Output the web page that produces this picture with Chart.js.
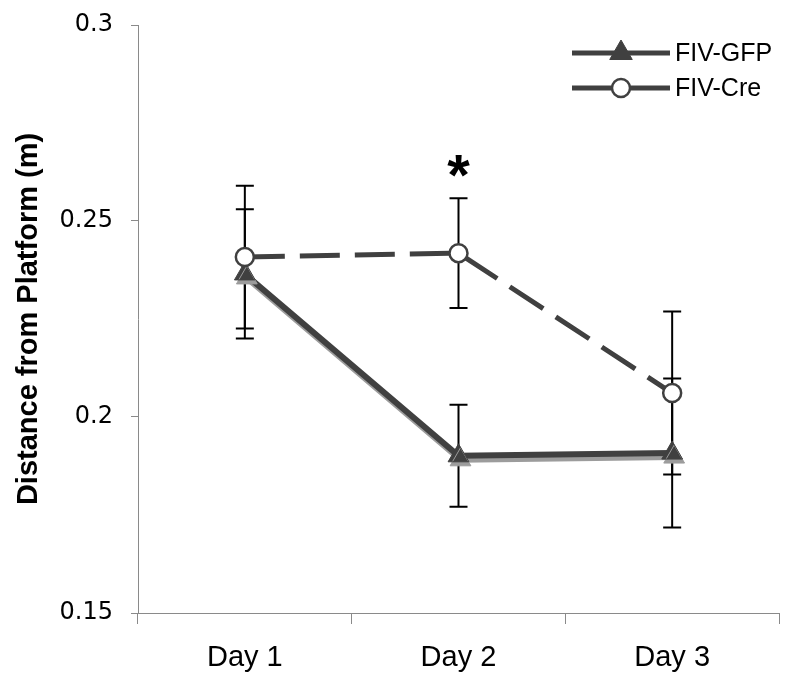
<!DOCTYPE html>
<html><head><meta charset="utf-8">
<script src="https://cdn.jsdelivr.net/npm/chart.js@4.4.0/dist/chart.umd.min.js"></script>
<style>html,body{margin:0;padding:0;background:#fff;} #wrap{width:800px;height:688px;}</style>
</head><body><div id="wrap"><canvas id="c" width="800" height="688"></canvas></div>
<script>
const categories = ['Day 1', 'Day 2', 'Day 3'];
const seriesNames = ['FIV-GFP', 'FIV-Cre'];
const gfpValues = [0.2365, 0.1901, 0.1908];
const gfpErrors = [0.0165, 0.013, 0.019];
const creValues = [0.2408, 0.2418, 0.2061];
const creErrors = [0.0182, 0.014, 0.0208];
const significance = ['', '*', ''];
const yTickValues = [0.15, 0.2, 0.25, 0.3];
const yTickLabels = ['0.15', '0.2', '0.25', '0.3'];
const yTitle = 'Distance from Platform (m)';

const DARK = '#404040';
const AXIS = '#8a8a8a';

const errorBars = {
  id: 'errorBars',
  beforeDatasetsDraw(chart) {
    const ctx = chart.ctx, ys = chart.scales.y;
    ctx.save();
    ctx.strokeStyle = '#000';
    ctx.lineWidth = 2;
    chart.data.datasets.forEach((ds, di) => {
      const meta = chart.getDatasetMeta(di);
      ds.data.forEach((v, i) => {
        const e = ds.errors[i];
        const x = meta.data[i].x;
        const t = ys.getPixelForValue(v + e), b = ys.getPixelForValue(v - e);
        ctx.beginPath();
        ctx.moveTo(x, t); ctx.lineTo(x, b);
        ctx.moveTo(x - 9, t); ctx.lineTo(x + 9, t);
        ctx.moveTo(x - 9, b); ctx.lineTo(x + 9, b);
        ctx.stroke();
      });
    });
    ctx.restore();
  }
};

const shadow = {
  id: 'shadow',
  beforeDatasetDraw(chart, args) {
    const ds = chart.data.datasets[args.index];
    if (ds.shadow) {
      const ctx = chart.ctx;
      ctx.save();
      ctx.shadowColor = '#9c9c9c';
      ctx.shadowOffsetX = 2;
      ctx.shadowOffsetY = 4;
      ctx.shadowBlur = 0;
    }
  },
  afterDatasetDraw(chart, args) {
    const ds = chart.data.datasets[args.index];
    if (ds.shadow) chart.ctx.restore();
  }
};

const stars = {
  id: 'stars',
  afterDatasetsDraw(chart) {
    const ctx = chart.ctx, ys = chart.scales.y;
    const meta = chart.getDatasetMeta(0);
    ctx.save();
    ctx.fillStyle = '#000';
    ctx.font = 'bold 58px "Liberation Sans"';
    ctx.textAlign = 'center';
    ctx.textBaseline = 'alphabetic';
    significance.forEach((s, i) => {
      if (!s) return;
      const top = Math.max(gfpValues[i] + gfpErrors[i], creValues[i] + creErrors[i]);
      const y = ys.getPixelForValue(top);
      ctx.fillText(s, meta.data[i].x, y - 3);
    });
    ctx.restore();
  }
};

const customLegend = {
  id: 'customLegend',
  afterDraw(chart) {
    const ctx = chart.ctx;
    ctx.save();
    chart.data.datasets.slice().sort((a, b) => a.legendIndex - b.legendIndex).forEach((ds, i) => {
      const y = 53 + i * 35;
      ctx.strokeStyle = DARK;
      ctx.lineWidth = 5;
      ctx.setLineDash([]);
      ctx.beginPath(); ctx.moveTo(572, y); ctx.lineTo(670, y); ctx.stroke();
      ctx.fillStyle = ds.pointBackgroundColor;
      ctx.strokeStyle = ds.pointBorderColor;
      ctx.lineWidth = ds.pointBorderWidth;
      ctx.beginPath();
      if (ds.pointStyle === 'triangle') {
        const r = 13;
        ctx.moveTo(621, y - r); ctx.lineTo(621 + r * 0.866, y + r * 0.5); ctx.lineTo(621 - r * 0.866, y + r * 0.5); ctx.closePath();
      } else {
        ctx.arc(621, y, ds.pointRadius, 0, Math.PI * 2);
      }
      ctx.fill(); ctx.stroke();
      ctx.fillStyle = '#000';
      ctx.font = '25px "Liberation Sans"';
      ctx.textAlign = 'left';
      ctx.textBaseline = 'middle';
      ctx.fillText(ds.label, 675, y + 1);
    });
    ctx.restore();
  }
};

new Chart(document.getElementById('c'), {
  type: 'line',
  data: {
    labels: categories,
    datasets: [
      {
        label: seriesNames[0], legendIndex: 0, data: gfpValues, errors: gfpErrors, shadow: true,
        borderColor: DARK, borderWidth: 6, tension: 0,
        pointStyle: 'triangle', pointRadius: 12, pointBackgroundColor: DARK, pointBorderColor: DARK, pointBorderWidth: 1,
        order: 2
      },
      {
        label: seriesNames[1], legendIndex: 1, data: creValues, errors: creErrors,
        borderColor: DARK, borderWidth: 5, borderDash: [40, 15], tension: 0,
        pointStyle: 'circle', pointRadius: 9, pointBackgroundColor: '#fff', pointBorderColor: DARK, pointBorderWidth: 2.5,
        order: 1
      }
    ]
  },
  options: {
    responsive: false,
    animation: false,
    devicePixelRatio: 1,
    layout: { padding: { left: 0, right: 21, top: 25, bottom: 0 }, autoPadding: false },
    plugins: { legend: { display: false }, tooltip: { enabled: false } },
    scales: {
      x: {
        type: 'category',
        offset: true,
        grid: { offset: true, drawOnChartArea: false, color: AXIS, tickLength: 11, tickWidth: 1 },
        border: { color: AXIS, width: 1 },
        ticks: { color: '#000', font: { family: '"Liberation Sans"', size: 29 }, padding: 17, maxRotation: 0 },
        afterFit(s) { s.height = 75; s.paddingLeft = 0; s.paddingRight = 0; }
      },
      y: {
        min: 0.15, max: 0.3,
        afterBuildTicks(s) { s.ticks = yTickValues.map(v => ({ value: v })); },
        grid: { drawOnChartArea: false, color: AXIS, tickLength: 7 },
        border: { color: AXIS, width: 1 },
        ticks: {
          color: '#000', font: { family: '"DejaVu Sans"', size: 24 }, padding: 18,
          callback(v) { const k = yTickValues.indexOf(v); return k >= 0 ? yTickLabels[k] : ''; }
        },
        title: { display: true, text: yTitle, color: '#000', font: { family: '"Liberation Sans"', size: 29, weight: 'bold' }, padding: { top: 12, bottom: 0 } },
        afterFit(s) { s.width = 138; s.paddingTop = 0; s.paddingBottom = 0; }
      }
    }
  },
  plugins: [errorBars, shadow, stars, customLegend]
});
</script></body></html>
